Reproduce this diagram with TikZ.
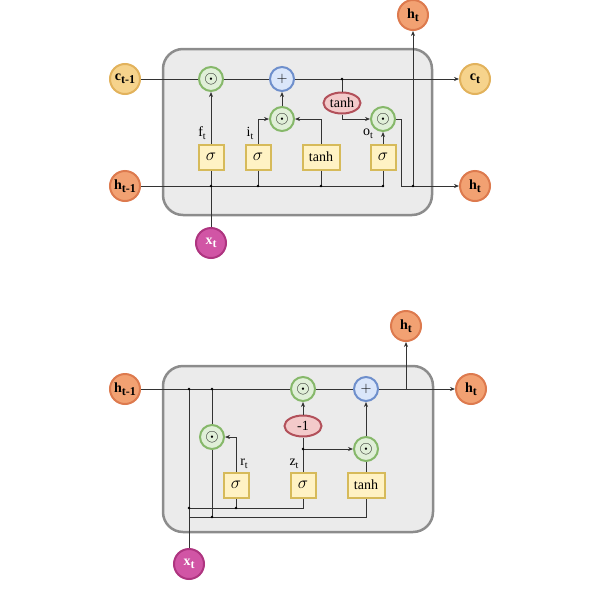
\documentclass[tikz,border=0pt]{standalone}
\usepackage{fontspec}
\setmainfont{Liberation Serif}
\usetikzlibrary{arrows.meta,shapes.geometric}

\definecolor{cellfill}{HTML}{EBEBEB}
\definecolor{celldraw}{HTML}{8C8C8C}
\definecolor{cfill}{HTML}{F6D38C}
\definecolor{cdraw}{HTML}{E2B25C}
\definecolor{hfill}{HTML}{F2A172}
\definecolor{hdraw}{HTML}{DD7A4E}
\definecolor{xfill}{HTML}{D155A5}
\definecolor{xdraw}{HTML}{AE3580}
\definecolor{gfill}{HTML}{E0EFD8}
\definecolor{gdraw}{HTML}{86B86A}
\definecolor{bfill}{HTML}{DAE6FA}
\definecolor{bdraw}{HTML}{6E8FCC}
\definecolor{rfill}{HTML}{F3CACA}
\definecolor{rdraw}{HTML}{B2505A}
\definecolor{yfill}{HTML}{FFF2C4}
\definecolor{ydraw}{HTML}{D6BA5A}

% subscripted bold label
\newcommand{\lab}[2]{\textbf{#1\raisebox{-0.45ex}{\fontsize{12}{12}\selectfont #2}}}
\newcommand{\gl}[2]{#1\raisebox{-0.45ex}{\fontsize{10}{10}\selectfont #2}}
\newcommand{\had}{{\fontsize{18}{18}\selectfont$\odot$}}
\newcommand{\sig}{{\fontsize{17}{17}\selectfont$\sigma$}}

\begin{document}
\begin{tikzpicture}[x=1pt,y=-1pt,
    font=\fontsize{14}{16}\selectfont,
    cellbox/.style={draw=celldraw,fill=cellfill,line width=2.5pt,rounded corners=20pt},
    io/.style={circle,minimum size=30pt,inner sep=0pt,line width=2pt},
    cio/.style={io,fill=cfill,draw=cdraw},
    hio/.style={io,fill=hfill,draw=hdraw},
    xio/.style={io,fill=xfill,draw=xdraw,text=white},
    op/.style={circle,minimum size=24pt,inner sep=0pt,line width=2pt,fill=gfill,draw=gdraw},
    addop/.style={op,fill=bfill,draw=bdraw},
    act/.style={ellipse,minimum width=37pt,minimum height=21pt,inner sep=0pt,line width=2pt,fill=rfill,draw=rdraw},
    layer/.style={rectangle,minimum width=25pt,minimum height=25pt,inner sep=2pt,line width=2pt,fill=yfill,draw=ydraw},
    wire/.style={draw=black!80,line width=0.7pt},
    arr/.style={wire,-{Stealth[length=5pt,width=4pt]}},
    dot/.style={circle,fill=black,inner sep=0pt,minimum size=2.6pt}]
  \useasboundingbox (0,0) rectangle (600,600);

  % ---- LSTM ----
  \draw[cellbox] (163,49) rectangle (432,215);
  \node[cio] (cprev) at (125,79) {\lab{c}{t-1}};
  \node[hio] (hprev) at (125,186) {\lab{h}{t-1}};
  \node[xio] (xin) at (211,243) {\lab{x}{t}};
  \node[cio] (cnext) at (475,79) {\lab{c}{t}};
  \node[hio] (hnext) at (475,186) {\lab{h}{t}};
  \node[hio] (htop) at (413,15) {\lab{h}{t}};
  \node[op] (fmul) at (211,79) {\had};
  \node[addop] (cadd) at (282,79) {$+$};
  \node[op] (imul) at (282,119) {\had};
  \node[op] (omul) at (383,119) {\had};
  \node[act] (ctanh) at (342,103) {tanh};
  \node[layer] (sigf) at (211,157) {\sig};
  \node[layer] (sigi) at (258,157) {\sig};
  \node[layer,minimum width=37pt] (cand) at (321,157) {tanh};
  \node[layer] (sigo) at (383,157) {\sig};
  \node (flab) at (202,133) {\gl{f}{t}};
  \node (ilab) at (250,133) {\gl{i}{t}};
  \node (olab) at (368,134) {\gl{o}{t}};
  \coordinate (jc) at (342,79);
  \coordinate (jo) at (401,186);
  \coordinate (jh) at (413,186);

  \draw[wire] (cprev) -- (fmul);
  \draw[wire] (fmul) -- (cadd);
  \draw[arr] (cadd) -- (cnext);
  \draw[wire] (jc) -- (ctanh);
  \draw[arr] (ctanh.south) |- (omul.west);
  \draw[arr] (sigf) -- (fmul);
  \draw[arr] (sigi.north) |- (imul.west);
  \draw[arr] (cand.north) |- (imul.east);
  \draw[arr] (imul) -- (cadd);
  \draw[arr] (sigo) -- (omul);
  \draw[wire] (omul.east) -| (jo);
  \draw[arr] (jo) -- (hnext);
  \draw[arr] (jh) -- (htop);
  \draw[wire] (hprev) -| (sigo.south);
  \draw[wire] (xin) -- (sigf);
  \draw[wire] (sigi.south) -- (sigi.south |- hprev);
  \draw[wire] (cand.south) -- (cand.south |- hprev);
  \node[dot] at (jc) {};
  \node[dot] at (jh) {};
  \foreach \x in {211,258,321,383} \node[dot] at (\x,186) {};

  % ---- GRU ----
  \draw[cellbox] (163,366) rectangle (433,532);
  \node[hio] (hprev2) at (125,389) {\lab{h}{t-1}};
  \node[xio] (xin2) at (189,564) {\lab{x}{t}};
  \node[hio] (hnext2) at (471,389) {\lab{h}{t}};
  \node[hio] (htop2) at (406,326) {\lab{h}{t}};
  \node[op] (zmul) at (303,389) {\had};
  \node[addop] (hadd) at (366,389) {$+$};
  \node[op] (rmul) at (212,437) {\had};
  \node[act] (neg) at (303,426) {-1};
  \node[op] (cmul) at (366,449) {\had};
  \node[layer] (sigr) at (236,485) {\sig};
  \node[layer] (sigz) at (303,485) {\sig};
  \node[layer,minimum width=37pt] (cand2) at (366,485) {tanh};
  \node (rlab) at (244,464) {\gl{r}{t}};
  \node (zlab) at (294,464) {\gl{z}{t}};
  \coordinate (ja) at (189,389);
  \coordinate (jb) at (212,389);
  \coordinate (jx) at (189,508);
  \coordinate (jy) at (189,517);
  \coordinate (jz) at (303,449);
  \coordinate (jt) at (406,389);

  \draw[wire] (hprev2) -- (zmul);
  \draw[wire] (zmul) -- (hadd);
  \draw[arr] (hadd) -- (hnext2);
  \draw[arr] (jt) -- (htop2);
  \draw[wire] (ja) -- (xin2);
  \draw[wire] (jb) -- (rmul);
  \draw[wire] (rmul) -- (rmul.south |- jy);
  \draw[wire] (jx) -| (sigz.south);
  \draw[wire] (sigr.south) -- (sigr.south |- jx);
  \draw[wire] (jy) -| (cand2.south);
  \draw[arr] (sigr.north) |- (rmul.east);
  \draw[wire] (sigz) -- (neg);
  \draw[arr] (jz) -- (cmul.west);
  \draw[arr] (neg) -- (zmul);
  \draw[wire] (cand2) -- (cmul);
  \draw[arr] (cmul) -- (hadd);
  \foreach \p in {ja,jb,jx,jz} \node[dot] at (\p) {};
  \node[dot] at (236,508) {};
  \node[dot] at (212,517) {};
\end{tikzpicture}
\end{document}
